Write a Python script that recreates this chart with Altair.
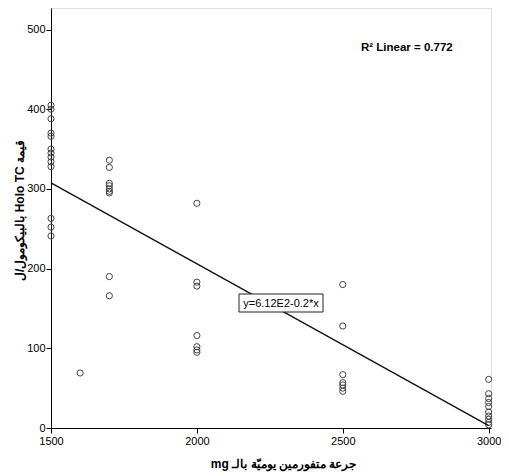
import altair as alt
import pandas as pd

# Observed points: dose (mg) and Holo TC (pmol/L)
dose = ([1500] * 13 + [1600] + [1700] * 9 + [2000] * 7 + [2500] * 7 + [3000] * 10)
holo_tc = ([405, 400, 388, 370, 366, 350, 345, 340, 334, 328, 263, 252, 241]
           + [69]
           + [336, 327, 307, 304, 300, 297, 295, 190, 166]
           + [282, 183, 178, 116, 102, 98, 95]
           + [180, 128, 67, 57, 54, 50, 46]
           + [61, 43, 37, 32, 27, 20, 15, 11, 7, 4])

fit_intercept = 612
fit_slope = -0.203
fit_label = "y=6.12E2-0.2*x"
r2_label = "R² Linear = 0.772"
x_ticks = [1500, 2000, 2500, 3000]
y_ticks = [0, 100, 200, 300, 400, 500]

x_title = "mg جرعة متفورمين يوميّة بالـ"
y_title = "بالبيكومول/ل Holo TC قيمة"

pts = pd.DataFrame({"dose": dose, "holo": holo_tc})
line_df = pd.DataFrame({"dose": [min(dose), max(dose)]})

FONT = "Liberation Sans"

xs = alt.Scale(domain=[1500, 3008], nice=False, zero=False)
ys = alt.Scale(domain=[0, 527], nice=False, zero=False)

xaxis = alt.Axis(values=x_ticks, format="d", grid=False, tickSize=5, labelFontSize=11,
                 labelFont=FONT, labelColor="#000", domainColor="#000",
                 tickColor="#000", title=x_title, titleFont=FONT,
                 titleFontSize=12, titleFontWeight="bold", titleColor="#000",
                 titlePadding=12, labelPadding=2, labelFlush=False, titleX=232)
yaxis = alt.Axis(values=y_ticks, format="d", grid=False, tickSize=5, labelFontSize=11,
                 labelFont=FONT, labelColor="#000", domainColor="#000",
                 tickColor="#000", title=y_title, titleFont=FONT,
                 titleFontSize=12, titleFontWeight="bold", titleColor="#000",
                 titlePadding=0, labelPadding=1, titleY=202)

points = alt.Chart(pts).mark_point(shape="circle", filled=False, size=38,
                                   color="#444", strokeWidth=1, opacity=1).encode(
    x=alt.X("dose:Q", scale=xs, axis=xaxis),
    y=alt.Y("holo:Q", scale=ys, axis=yaxis),
)

fit = alt.Chart(line_df).transform_calculate(
    pred=f"{fit_intercept} + ({fit_slope}) * datum.dose"
).mark_line(color="#111", strokeWidth=1.4).encode(
    x=alt.X("dose:Q", scale=xs),
    y=alt.Y("pred:Q", scale=ys),
)

box = alt.Chart(pd.DataFrame({"t": [fit_label]})).mark_rect(
    fill="white", stroke="#222", strokeWidth=1
).encode(x=alt.value(188), x2=alt.value(272), y=alt.value(286), y2=alt.value(304))

box_text = alt.Chart(pd.DataFrame({"t": [fit_label]})).mark_text(
    font=FONT, fontSize=11, color="#000", align="center", baseline="middle"
).encode(text="t:N", x=alt.value(230), y=alt.value(295.5))

r2 = alt.Chart(pd.DataFrame({"t": [r2_label]})).mark_text(
    font=FONT, fontSize=11.5, fontWeight="bold", color="#000", align="left",
    baseline="middle"
).encode(text="t:N", x=alt.value(310), y=alt.value(40))

chart = alt.layer(points, fit, box, box_text, r2).properties(
    width=440, height=420,
    autosize=alt.AutoSizeParams(type="none"),
    padding={"left": 43, "top": 0, "right": 10, "bottom": 48},
).configure_view(fill="#f0f0f0", stroke="#555", strokeWidth=1
).configure(background="white")

chart.save("out.html", embed_options={"renderer": "svg", "actions": False})
